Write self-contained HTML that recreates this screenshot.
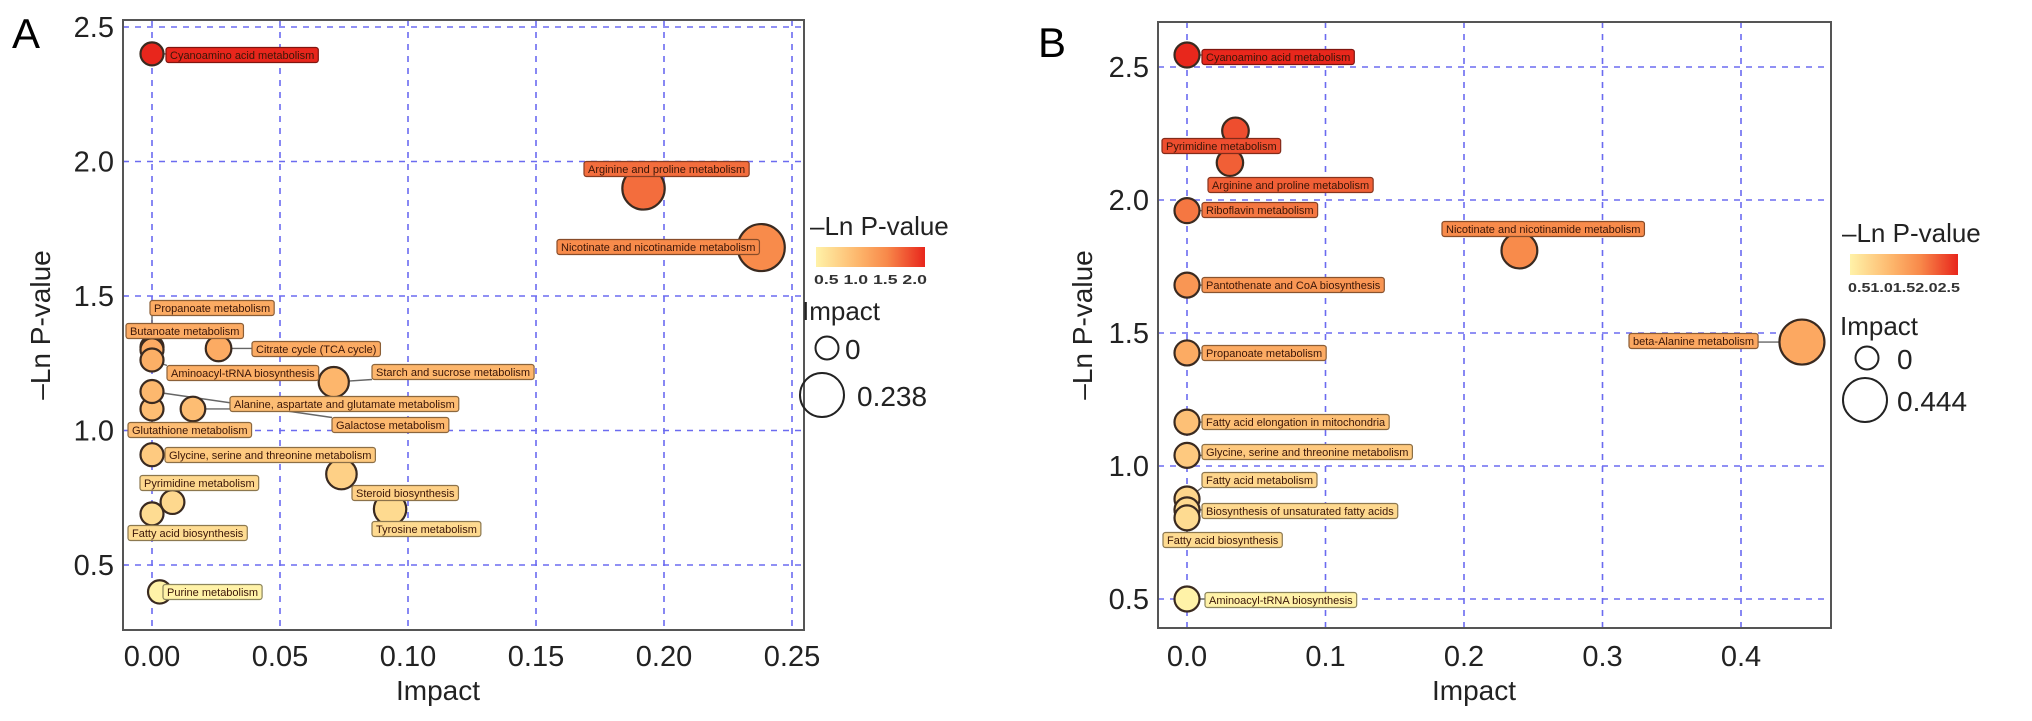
<!DOCTYPE html>
<html><head><meta charset="utf-8">
<style>
html,body{margin:0;padding:0;background:#fff;}
svg{display:block;font-family:"Liberation Sans",Arial,sans-serif;}
</style></head>
<body>
<svg id="fig" width="2032" height="721" viewBox="0 0 2032 721" xmlns="http://www.w3.org/2000/svg">
  <defs>
    <linearGradient id="gradA" x1="0" x2="1" y1="0" y2="0">
      <stop offset="0" stop-color="#fff2a8"/><stop offset="0.4" stop-color="#fdb46a"/><stop offset="0.65" stop-color="#f8894a"/><stop offset="1" stop-color="#e8261c"/>
    </linearGradient>
  </defs>
  <text x="12" y="48" font-size="42">A</text>
  <text x="1038" y="57" font-size="42">B</text>
  <g id="panelA"></g>
  <g id="panelB"></g>
</svg>
<script>
// ---- Panel A data ----
const namesA = ["Cyanoamino acid metabolism","Arginine and proline metabolism","Nicotinate and nicotinamide metabolism","Propanoate metabolism","Butanoate metabolism","Citrate cycle (TCA cycle)","Aminoacyl-tRNA biosynthesis","Starch and sucrose metabolism","Alanine, aspartate and glutamate metabolism","Glutathione metabolism","Galactose metabolism","Glycine, serine and threonine metabolism","Pyrimidine metabolism","Steroid biosynthesis","Tyrosine metabolism","Fatty acid biosynthesis","Purine metabolism"];
const impactA = [0, 0.192, 0.238, 0, 0, 0.026, 0, 0.071, 0.016, 0, 0, 0, 0.008, 0.074, 0.093, 0, 0.003];
const lnpA = [2.40, 1.90, 1.68, 1.31, 1.30, 1.305, 1.262, 1.18, 1.08, 1.08, 1.145, 0.91, 0.734, 0.838, 0.708, 0.69, 0.40];
const xTicksA = [0, 0.05, 0.10, 0.15, 0.20, 0.25];
const xTickLabelsA = ["0.00","0.05","0.10","0.15","0.20","0.25"];
const yTicksA = [0.5, 1.0, 1.5, 2.0, 2.5];
const yTickLabelsA = ["0.5","1.0","1.5","2.0","2.5"];
const cbarTicksA = ["0.5","1.0","1.5","2.0"];
// label box anchor (left x, centre y) in px – layout only
const labelPosA = [[166,55],[584,169],[557,247],[150,308],[126,331],[252,349],[167,373],[372,372],[230,404],[128,430],[332,425],[165,455],[140,483],[352,493],[372,529],[128,533],[163,592]];

// ---- Panel B data ----
const namesB = ["Cyanoamino acid metabolism","Pyrimidine metabolism","Arginine and proline metabolism","Riboflavin metabolism","Nicotinate and nicotinamide metabolism","Pantothenate and CoA biosynthesis","beta-Alanine metabolism","Propanoate metabolism","Fatty acid elongation in mitochondria","Glycine, serine and threonine metabolism","Fatty acid metabolism","Biosynthesis of unsaturated fatty acids","Fatty acid biosynthesis","Aminoacyl-tRNA biosynthesis"];
const impactB = [0, 0.035, 0.031, 0, 0.24, 0, 0.444, 0, 0, 0, 0, 0, 0, 0];
const lnpB = [2.545, 2.26, 2.14, 1.96, 1.81, 1.68, 1.466, 1.425, 1.165, 1.04, 0.876, 0.835, 0.805, 0.50];
const xTicksB = [0, 0.1, 0.2, 0.3, 0.4];
const xTickLabelsB = ["0.0","0.1","0.2","0.3","0.4"];
const yTicksB = [0.5, 1.0, 1.5, 2.0, 2.5];
const yTickLabelsB = ["0.5","1.0","1.5","2.0","2.5"];
const cbarTicksB = ["0.5","1.0","1.5","2.0","2.5"];
const labelPosB = [[1202,57],[1162,146],[1208,185],[1202,210],[1442,229],[1202,285],[1629,341],[1202,353],[1202,422],[1202,452],[1202,480],[1202,511],[1163,540],[1205,600]];

const NS = "http://www.w3.org/2000/svg";
function mk(tag, attrs, parent){
  const e = document.createElementNS(NS, tag);
  for (const k in attrs) e.setAttribute(k, attrs[k]);
  parent.appendChild(e);
  return e;
}
function hex(c){return [parseInt(c.slice(1,3),16),parseInt(c.slice(3,5),16),parseInt(c.slice(5,7),16)];}
const stops = [[0,"#fff2a8"],[0.4,"#fdb46a"],[0.65,"#f8894a"],[1,"#e8261c"]];
function colorAt(t){
  t = Math.max(0, Math.min(1, t));
  for (let i=0;i<stops.length-1;i++){
    const [a,ca]=stops[i],[b,cb]=stops[i+1];
    if (t<=b){const f=(t-a)/(b-a);const A=hex(ca),B=hex(cb);
      return "rgb("+A.map((v,j)=>Math.round(v+(B[j]-v)*f)).join(",")+")";}
  }
  return stops[stops.length-1][1];
}
function darker(c){
  const m=c.match(/\d+/g).map(Number);
  return "rgb("+m.map(v=>Math.round(v*0.55)).join(",")+")";
}

function drawPanel(g, cfg){
  const {frame, xS, yS, xTicks, xLabels, yTicks, yLabels, names, impact, lnp, labelPos, cmin, cmax, rS, xTitleX, yTitleX, tag} = cfg;
  const fr = mk("rect",{x:frame[0],y:frame[1],width:frame[2]-frame[0],height:frame[3]-frame[1],fill:"#fff",stroke:"none"},g);
  
  
  xTicks.forEach((v,i)=>{
    const x = xS(v);
    if (x>frame[0] && x<frame[2]-1){
      const l = mk("line",{x1:x,x2:x,y1:frame[1],y2:frame[3],stroke:"#6b6bf0","stroke-width":1.6,"stroke-dasharray":"6 6"},g);
      
      
    }
    const t = mk("text",{x:x,y:666,"font-size":29,"text-anchor":"middle",fill:"#222"},g);
    t.textContent = xLabels[i];
    
    
  });
  yTicks.forEach((v,i)=>{
    const y = yS(v);
    const l = mk("line",{x1:frame[0],x2:frame[2],y1:y,y2:y,stroke:"#6b6bf0","stroke-width":1.6,"stroke-dasharray":"6 6"},g);
    
    
    const t = mk("text",{x:frame[0]-9,y:y+10,"font-size":29,"text-anchor":"end",fill:"#222"},g);
    t.textContent = yLabels[i];
    
    
  });
  const fb = mk("rect",{x:frame[0],y:frame[1],width:frame[2]-frame[0],height:frame[3]-frame[1],fill:"none",stroke:"#555","stroke-width":2},g);
  
  
  const xt = mk("text",{x:xTitleX,y:700,"font-size":28,"text-anchor":"middle",fill:"#222"},g);
  xt.textContent = "Impact";
  
  
  const yc = (frame[1]+frame[3])/2;
  const yt = mk("text",{x:yTitleX,y:yc,"font-size":28,"text-anchor":"middle",fill:"#222",transform:"rotate(-90 "+yTitleX+" "+yc+")"},g);
  yt.textContent = "\u2013Ln P-value";
  
  

  const lineG = mk("g",{},g), ptG = mk("g",{},g), lblG = mk("g",{},g);
  const order = names.map((_,i)=>i).sort((a,b)=>impact[b]-impact[a]);
  order.forEach(i=>{
    const cx = xS(impact[i]), cy = yS(lnp[i]);
    const col = colorAt((lnp[i]-cmin)/(cmax-cmin));
    const c = mk("circle",{cx:cx,cy:cy,r:rS(impact[i]),fill:col,stroke:"#3a2a20","stroke-width":2.2},ptG);
    
    
  });
  names.forEach((n,i)=>{
    const cx = xS(impact[i]), cy = yS(lnp[i]);
    const col = colorAt((lnp[i]-cmin)/(cmax-cmin));
    const [lx, ly] = labelPos[i];
    const t = mk("text",{x:lx+4,y:ly+4,"font-size":11,fill:"#3b1608"},lblG);
    t.textContent = n;
    const w = t.getComputedTextLength()+8;
    const r = mk("rect",{x:lx,y:ly-7.5,width:w,height:15,rx:2.5,fill:col,stroke:darker(col),"stroke-width":1.2},lblG);
    lblG.insertBefore(r, t);
    
    
    
    
    const ex = Math.max(lx, Math.min(lx+w, cx));
    const ey = Math.max(ly-7.5, Math.min(ly+7.5, cy));
    const ln = mk("line",{x1:ex,y1:ey,x2:cx,y2:cy,stroke:"#666","stroke-width":1.4},lineG);
    
    
  });
}

function drawLegend(g, L, ticks, maxLabel, tag){
  const t1 = mk("text",{x:L.x,y:L.titleY,"font-size":26,fill:"#222"},g);
  t1.textContent = "\u2013Ln P-value";
  
  
  const cb = mk("rect",{x:L.cbx,y:L.cby,width:L.cbw,height:L.cbh,fill:"url(#gradA)"},g);
  
  
  const tt = mk("text",{x:L.cbx-2,y:L.cby+L.cbh+17,"font-size":13,"font-weight":"bold",fill:"#333",textLength:L.cbw+4,lengthAdjust:"spacingAndGlyphs"},g);
  tt.textContent = ticks.join(L.sep);
  
  
  const t2 = mk("text",{x:L.impX,y:L.impY,"font-size":26,fill:"#222"},g);
  t2.textContent = "Impact";
  
  
  const c0 = mk("circle",{cx:L.c0x,cy:L.c0y,r:11.5,fill:"none",stroke:"#222","stroke-width":2},g);
  
  
  const s0 = mk("text",{x:L.txtX,y:L.c0y+11,"font-size":28,fill:"#222"},g);
  s0.textContent = "0";
  
  
  const c1 = mk("circle",{cx:L.c1x,cy:L.c1y,r:22,fill:"none",stroke:"#222","stroke-width":2},g);
  
  
  const s1 = mk("text",{x:L.txt1X,y:L.c1y+11,"font-size":28,fill:"#222"},g);
  s1.textContent = maxLabel;
  
  
}

const gA = document.getElementById("panelA");
const maxA = Math.max(...impactA);
drawPanel(gA, {
  frame:[123,20,804,630],
  xS:v=>152+v*2560, yS:v=>27+(2.5-v)*269,
  xTicks:xTicksA, xLabels:xTickLabelsA, yTicks:yTicksA, yLabels:yTickLabelsA,
  names:namesA, impact:impactA, lnp:lnpA, labelPos:labelPosA,
  cmin:0.4, cmax:2.4, rS:v=>11.5+v/maxA*12, xTitleX:438, yTitleX:50, tag:"a"
});
drawLegend(gA,{x:810,titleY:235,cbx:816,cby:247,cbw:109,cbh:20,sep:" ",impX:802,impY:320,c0x:827,c0y:348,c1x:822,c1y:395,txtX:845,txt1X:857},cbarTicksA,"0.238","a");

const gB = document.getElementById("panelB");
const maxB = Math.max(...impactB);
drawPanel(gB, {
  frame:[1158,22,1831,628],
  xS:v=>1187+v*1385, yS:v=>67+(2.5-v)*266,
  xTicks:xTicksB, xLabels:xTickLabelsB, yTicks:yTicksB, yLabels:yTickLabelsB,
  names:namesB, impact:impactB, lnp:lnpB, labelPos:labelPosB,
  cmin:0.5, cmax:2.55, rS:v=>12.5+v/maxB*10, xTitleX:1474, yTitleX:1092, tag:"b"
});
drawLegend(gB,{x:1842,titleY:242,cbx:1850,cby:254,cbw:108,cbh:21,sep:"",impX:1840,impY:335,c0x:1867,c0y:358,c1x:1865,c1y:400,txtX:1897,txt1X:1897},cbarTicksB,"0.444","b");
</script>
</body></html>
